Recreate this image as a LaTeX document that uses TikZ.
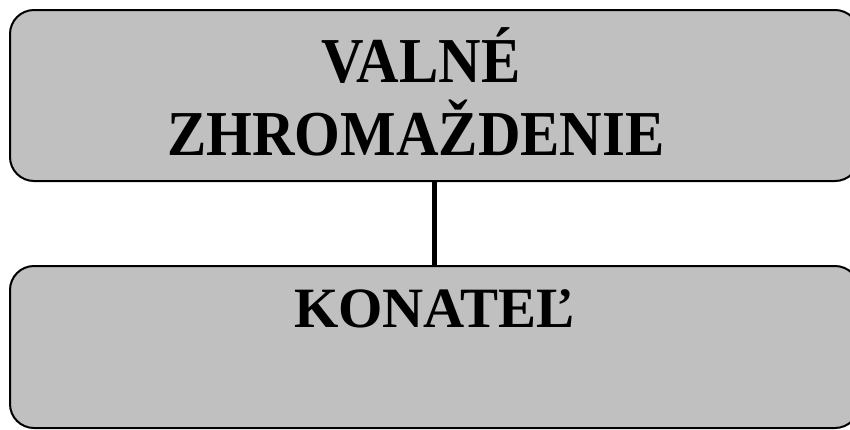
\documentclass[tikz,border=0pt]{standalone}
\usepackage{fontspec}
\setmainfont{Liberation Serif}
\newfontfamily\narrowserif[FakeStretch=0.92]{Liberation Serif}
\begin{document}
\begin{tikzpicture}[x=1pt,y=-1pt,
  orgbox/.style={draw=black,line width=2pt,fill={rgb,255:red,192;green,192;blue,192},rounded corners=24pt,minimum width=849pt,inner sep=0pt},
  bigtext/.style={anchor=base,inner sep=0pt,font=\narrowserif\fontsize{64}{64}\selectfont\bfseries},
  midtext/.style={anchor=base,inner sep=0pt,font=\fontsize{57}{57}\selectfont\bfseries}]
\useasboundingbox (0,0) rectangle (850,429);
\node[orgbox,minimum height=171pt] (top) at (434.5,95.5) {};
\node[orgbox,minimum height=162pt] (bot) at (434.5,347) {};
\draw[line width=5.5pt] (top.south) -- (bot.north);
\node[bigtext] (t1) at (421,82) {VALNÉ};
\node[bigtext] (t2) at (416,155) {ZHROMAŽDENIE};
\node[midtext] (t3) at (434.5,327) {KONATEĽ};
\end{tikzpicture}
\end{document}
